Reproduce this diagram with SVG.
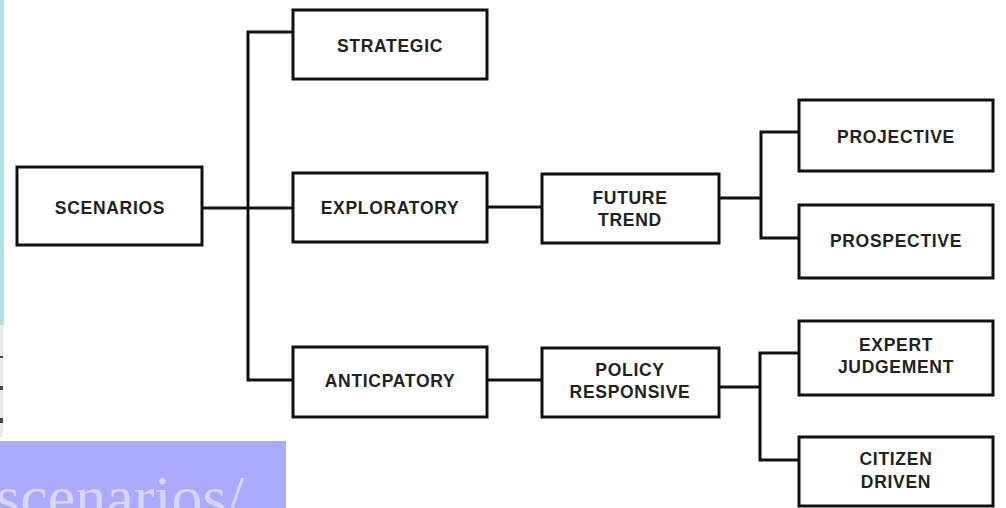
<svg xmlns="http://www.w3.org/2000/svg" width="1006" height="508" viewBox="0 0 1006 508">
<style>
.box{fill:#fff;stroke:#111;stroke-width:3}
.lbl{font-family:"Liberation Sans",Arial,sans-serif;font-weight:bold;font-size:17.5px;letter-spacing:0.7px;fill:#222;text-anchor:middle}
.conn{fill:none;stroke:#111;stroke-width:3}
</style>
<rect x="0" y="0" width="1006" height="508" fill="#fff"/>
<rect x="0" y="0" width="4" height="325" fill="#b0e0e6"/>
<rect x="0" y="325" width="3" height="112" fill="#e8e8e8"/>
<rect x="0" y="356" width="3" height="2" fill="#444"/>
<rect x="0" y="386" width="3" height="4" fill="#444"/>
<rect x="0" y="418" width="3" height="5" fill="#444"/>
<rect x="0" y="441" width="286" height="67" fill="#aaaaff"/>
<text x="-4" y="518" font-family="Liberation Serif,serif" font-size="62" fill="#d6d6ff">scenarios/</text>
<g id="connectors">
<path class="conn" d="M202 208H293"/>
<path class="conn" d="M293 32H248V380H293"/>
<path class="conn" d="M487 207H542"/>
<path class="conn" d="M487 380H542"/>
<path class="conn" d="M719 198H761"/>
<path class="conn" d="M799 132H761V238H799"/>
<path class="conn" d="M719 387H760"/>
<path class="conn" d="M799 353H760V460H799"/>
</g>
<g id="scenarios"><rect class="box" x="17" y="167" width="185" height="78"/><text class="lbl" x="110" y="214">SCENARIOS</text></g>
<g id="strategic"><rect class="box" x="293" y="10" width="194" height="69"/><text class="lbl" x="390" y="52">STRATEGIC</text></g>
<g id="exploratory"><rect class="box" x="293" y="173" width="194" height="69"/><text class="lbl" x="390" y="214">EXPLORATORY</text></g>
<g id="anticpatory"><rect class="box" x="293" y="347" width="194" height="70"/><text class="lbl" x="390" y="387">ANTICPATORY</text></g>
<g id="future-trend"><rect class="box" x="542" y="174" width="177" height="69"/><text class="lbl" x="630" y="204">FUTURE</text><text class="lbl" x="630" y="226">TREND</text></g>
<g id="policy-responsive"><rect class="box" x="542" y="348" width="177" height="69"/><text class="lbl" x="630" y="376">POLICY</text><text class="lbl" x="630" y="398">RESPONSIVE</text></g>
<g id="projective"><rect class="box" x="799" y="100" width="194" height="71"/><text class="lbl" x="896" y="143">PROJECTIVE</text></g>
<g id="prospective"><rect class="box" x="799" y="205" width="194" height="73"/><text class="lbl" x="896" y="247">PROSPECTIVE</text></g>
<g id="expert-judgement"><rect class="box" x="799" y="321" width="194" height="74"/><text class="lbl" x="896" y="351">EXPERT</text><text class="lbl" x="896" y="373">JUDGEMENT</text></g>
<g id="citizen-driven"><rect class="box" x="799" y="437" width="194" height="69"/><text class="lbl" x="896" y="465">CITIZEN</text><text class="lbl" x="896" y="488">DRIVEN</text></g>
</svg>
